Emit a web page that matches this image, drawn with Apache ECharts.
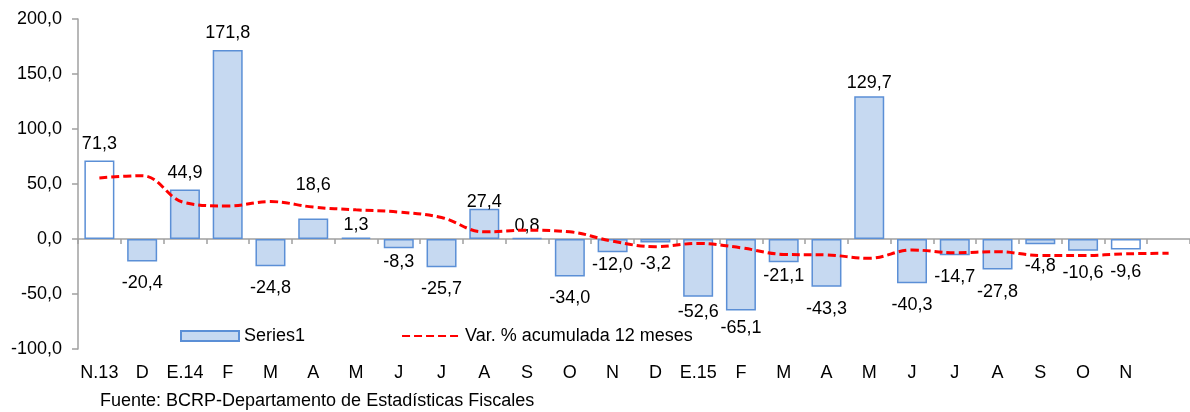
<!DOCTYPE html>
<html>
<head>
<meta charset="utf-8">
<script src="https://cdn.jsdelivr.net/npm/echarts@6/dist/echarts.min.js"></script>
<style>
  html, body { margin: 0; padding: 0; background: #fff; }
  #chart { width: 1190px; height: 412px; }
</style>
</head>
<body>
<div id="chart"></div>
<script>
// meses (el último hueco va vacío, solo lleva la línea)
var categories = ['N.13', 'D', 'E.14', 'F', 'M', 'A', 'M', 'J', 'J', 'A', 'S', 'O', 'N',
  'D', 'E.15', 'F', 'M', 'A', 'M', 'J', 'J', 'A', 'S', 'O', 'N', ''];
// Series1 (barras)
var barValues = [71.3, -20.4, 44.9, 171.8, -24.8, 18.6, 1.3, -8.3, -25.7, 27.4, 0.8, -34.0, -12.0,
  -3.2, -52.6, -65.1, -21.1, -43.3, 129.7, -40.3, -14.7, -27.8, -4.8, -10.6, -9.6, null];
// Var. % acumulada 12 meses
var lineValues = [55.5, 57.5, 33, 30, 34, 29, 26.5, 24.5, 19.5, 6.5, 8, 6.5, -2,
  -7, -4, -8, -14, -14.5, -17.5, -10, -12.5, -11.5, -15, -15, -13.5, -13];
var yTicks = [-100, -50, 0, 50, 100, 150, 200];

var fmt = function (v) { return Number(v).toFixed(1).replace('.', ','); };

// barras sin relleno (primera y última)
var hollow = { 0: true, 24: true };
// separación de etiquetas que en el original no siguen la regla general
var labelGap = { 5: 25, 6: 4, 7: 5, 9: -2, 10: 3, 12: 4, 15: 8, 14: 6, 16: 5, 18: 4 };

var barData = barValues.map(function (v, i) {
  if (v === null) return null;
  var neg = v < 0;
  var item = {
    value: v,
    label: {
      position: neg ? 'bottom' : 'top',
      distance: labelGap[i] !== undefined ? labelGap[i] : (neg ? 13 : 8)
    }
  };
  if (hollow[i]) item.itemStyle = { color: '#ffffff' };
  return item;
});

var chart = echarts.init(document.getElementById('chart'));
var txt = { fontFamily: 'Liberation Sans, Arial, sans-serif', fontSize: 18, color: '#000' };

chart.setOption({
  animation: false,
  textStyle: { fontFamily: 'Liberation Sans, Arial, sans-serif' },
  title: {
    text: 'Fuente: BCRP-Departamento de Estadísticas Fiscales',
    left: 100,
    top: 392,
    padding: 0,
    textStyle: { fontFamily: txt.fontFamily, fontSize: 18, fontWeight: 'normal', color: '#000' }
  },
  legend: {
    left: 175,
    top: 322,
    itemWidth: 58,
    itemHeight: 10,
    itemGap: 96,
    textStyle: txt,
    data: [
      { name: 'Series1', icon: 'rect' },
      { name: 'Var. % acumulada 12 meses', itemStyle: { color: 'rgba(0,0,0,0)', borderColor: 'rgba(0,0,0,0)', opacity: 0 } }
    ]
  },
  grid: { left: 78, top: 19, bottom: 63, width: 1123, containLabel: false },
  xAxis: [{
    type: 'category',
    data: categories,
    axisLine: { onZero: true, lineStyle: { color: '#a0a0a0', width: 1.5 } },
    axisTick: { show: true, length: 5, lineStyle: { color: '#a0a0a0', width: 1.5 } },
    axisLabel: { show: false }
  }, {
    type: 'category',
    data: categories,
    position: 'bottom',
    axisLine: { show: false, onZero: false },
    axisTick: { show: false },
    axisLabel: Object.assign({ margin: 15, interval: 0 }, txt)
  }],
  yAxis: {
    type: 'value',
    min: yTicks[0],
    max: yTicks[yTicks.length - 1],
    interval: 50,
    splitLine: { show: false },
    axisLine: { show: true, lineStyle: { color: '#a0a0a0', width: 1.5 } },
    axisTick: { show: true, length: 6, lineStyle: { color: '#a0a0a0', width: 1.5 } },
    axisLabel: Object.assign({ margin: 16, formatter: fmt }, txt)
  },
  series: [{
    name: 'Series1',
    type: 'bar',
    barWidth: 30,
    itemStyle: { color: '#c6d9f1', borderColor: '#5b8fd6', borderWidth: 1.5 },
    label: Object.assign({ show: true, formatter: function (p) { return fmt(p.value); } }, txt),
    data: barData
  }, {
    name: 'Var. % acumulada 12 meses',
    type: 'line',
    smooth: 0.4,
    symbol: 'none',
    z: 5,
    lineStyle: { color: '#ff0000', width: 3, type: [8, 4] },
    itemStyle: { color: '#ff0000' },
    data: lineValues
  }]
});
</script>
</body>
</html>
